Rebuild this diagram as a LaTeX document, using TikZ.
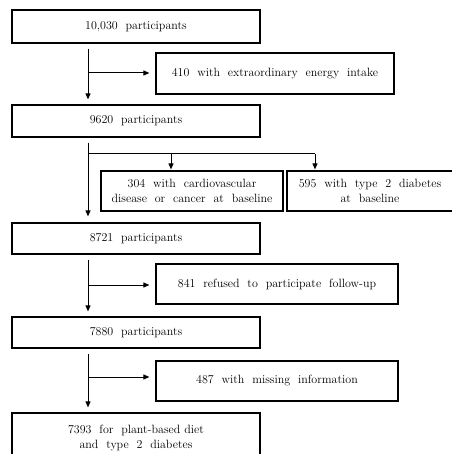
\documentclass[tikz,border=0pt]{standalone}
\usepackage{tikz}
\usetikzlibrary{arrows.meta, positioning, calc}

\begin{document}
\begin{tikzpicture}[x=1pt, y=-1pt,
    font=\fontsize{12}{15}\selectfont,
    mainbox/.style={draw, line width=1.2pt, align=center, inner sep=0pt, minimum width=248pt},
    sidebox/.style={draw, line width=1.2pt, align=center, inner sep=0pt, minimum height=40pt},
    arr/.style={-{Triangle[length=6pt, width=5pt]}, line width=1pt},
    ln/.style={line width=1pt}]
  \useasboundingbox (0,0) rectangle (451,454);
  % main flow
  \node[mainbox, minimum height=33pt] (p1) at (136,26.5) {10,030\ \ participants};
  \node[mainbox, minimum height=32pt] (p2) at (136,121)  {9620\ \ participants};
  \node[mainbox, minimum height=31pt] (p3) at (136,238.5) {8721\ \ participants};
  \node[mainbox, minimum height=31pt] (p4) at (136,332.5) {7880\ \ participants};
  \node[mainbox, minimum height=50pt] (p5) at (136,438)  {7393\ \ for\ \ plant-based diet\\ and\ \ type\ \ 2\ \ diabetes};
  % exclusions
  \node[sidebox, minimum width=238pt, minimum height=41pt] (x1) at (275,73.5) {410\ \ with\ \ extraordinary\ \ energy\ \ intake};
  \node[sidebox, minimum width=182pt] (xa) at (192,191) {304\ \ with\ \ cardiovascular\\ disease\ \ or\ \ cancer\ \ at\ \ baseline};
  \node[sidebox, minimum width=166pt] (xb) at (370,191) {595\ \ with\ \ type\ \ 2\ \ diabetes\\ at\ \ baseline};
  \node[sidebox, minimum width=242pt] (x3) at (277,284) {841\ \ refused\ \ to\ \ participate\ \ follow-up};
  \node[sidebox, minimum width=242pt] (x4) at (277,381) {487\ \ with\ \ missing\ \ information};
  % junctions on the spine
  \coordinate (spine) at (88,0);
  \coordinate (j1) at (88,73);
  \coordinate (fork) at (88,154);
  \coordinate (ka) at (171,154);
  \coordinate (kb) at (315,154);
  \coordinate (j3) at (88,285);
  \coordinate (j4) at (88,377);
  % connectors
  \draw[arr, shorten <=5pt, shorten >=5pt] (p1.south -| spine) -- (p2.north -| spine);
  \draw[arr, shorten <=5pt, shorten >=6pt] (p2.south -| spine) -- (p3.north -| spine);
  \draw[arr, shorten <=5pt, shorten >=5pt] (p3.south -| spine) -- (p4.north -| spine);
  \draw[arr, shorten <=5pt, shorten >=5pt] (p4.south -| spine) -- (p5.north -| spine);
  \draw[arr, shorten >=6pt] (j1) -- (j1 -| x1.west);
  \draw[arr, shorten >=6pt] (j3) -- (j3 -| x3.west);
  \draw[arr, shorten >=6pt] (j4) -- (j4 -| x4.west);
  \draw[ln] (fork) -- (kb);
  \draw[arr, shorten >=1pt] (ka) -- (ka |- xa.north);
  \draw[arr, shorten >=1pt] (kb) -- (kb |- xb.north);
\end{tikzpicture}
\end{document}
